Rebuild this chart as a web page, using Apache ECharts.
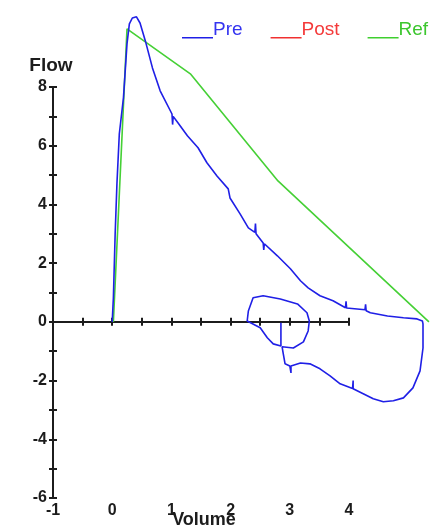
<!DOCTYPE html>
<html>
<head>
<meta charset="utf-8">
<style>
  html, body { margin: 0; padding: 0; background: #fff; }
  #main { width: 434px; height: 531px; }
</style>
<script src="https://cdn.jsdelivr.net/npm/echarts@6/dist/echarts.min.js"></script>
</head>
<body>
<div id="main"></div>
<script>
var myChart = echarts.init(document.getElementById('main'));

// [volume, flow] pairs
let preExpiration = [
    [0, 0], [0.02, 0.82], [0.05, 3.0], [0.08, 4.7], [0.12, 6.4], [0.19, 7.63],
    [0.25, 9.47], [0.29, 10.15], [0.34, 10.35], [0.41, 10.39], [0.47, 10.18],
    [0.56, 9.57], [0.68, 8.65], [0.81, 7.87], [1.01, 7.08], [1.02, 6.72], [1.03, 7.0],
    [1.11, 6.78], [1.27, 6.34], [1.45, 5.93], [1.6, 5.42], [1.77, 4.97], [1.96, 4.53],
    [1.99, 4.22], [2.16, 3.68], [2.3, 3.2], [2.41, 3.05], [2.42, 3.35], [2.43, 3.0],
    [2.55, 2.69], [2.56, 2.45], [2.57, 2.66], [2.79, 2.25], [3.01, 1.81], [3.18, 1.4],
    [3.31, 1.16], [3.51, 0.89], [3.73, 0.72], [3.94, 0.48], [3.95, 0.7], [3.96, 0.47],
    [4.27, 0.41], [4.28, 0.6], [4.29, 0.38], [4.36, 0.31], [4.65, 0.2], [4.92, 0.14],
    [5.15, 0.1], [5.24, 0.03]
];
let preInspiration = [
    [5.25, -0.07], [5.25, -0.89], [5.2, -1.67], [5.08, -2.25], [4.92, -2.59],
    [4.75, -2.69], [4.58, -2.72], [4.41, -2.62], [4.24, -2.45], [4.07, -2.28],
    [4.07, -2.0], [4.06, -2.27], [3.85, -2.11], [3.68, -1.84], [3.51, -1.6],
    [3.34, -1.43], [3.18, -1.4], [3.02, -1.5], [3.02, -1.74], [3.0, -1.5],
    [2.92, -1.43], [2.89, -1.09], [2.87, -0.85], [3.06, -0.89], [3.23, -0.68],
    [3.31, -0.31], [3.33, 0.03], [3.29, 0.31], [3.13, 0.61], [2.84, 0.78],
    [2.55, 0.89], [2.38, 0.82], [2.3, 0.37], [2.28, 0.03], [2.5, -0.2],
    [2.62, -0.54], [2.72, -0.75], [2.85, -0.82], [2.85, -0.03]
];
let postCurve = [];
let refCurve = [[0.02, 0], [0.25, 9.98], [1.32, 8.45], [2.8, 4.8], [5.35, 0]];

let xRange = [-1, 4];      // drawn axis
let xDataMax = 5.4;        // the curves run past the end of the drawn axis
let yRange = [-6, 8];

let font = '"Liberation Sans", Arial, sans-serif';
let ink = '#1c1c1c';
let legendIcon = 'path://M0,0 M0,16.5 L31,16.5 L31,18 L0,18 Z';

let gridLeft = 53, gridTop = 87, gridHeight = 411, axisWidth = 296;
let pxPerUnit = axisWidth / (xRange[1] - xRange[0]);

let hidden = {
    axisLine: {show: false, onZero: false},
    axisTick: {show: false},
    axisLabel: {show: false},
    splitLine: {show: false}
};

let option = {
    animation: false,
    backgroundColor: '#fff',
    grid: [
        // grid 0 holds the curves, grid 1 the visible axes; same scale
        {left: gridLeft, top: gridTop, height: gridHeight, width: pxPerUnit * (xDataMax - xRange[0]), outerBoundsMode: 'none'},
        {left: gridLeft, top: gridTop, height: gridHeight, width: axisWidth, outerBoundsMode: 'none'}
    ],
    legend: {
        left: 182,
        top: 20,
        padding: 0,
        itemWidth: 31,
        itemHeight: 18,
        itemGap: 28,
        icon: legendIcon,
        textStyle: {
            fontFamily: font,
            fontSize: 19,
            padding: [0, 0, 0, -5]
        },
        data: [
            {name: 'Pre', itemStyle: {color: '#1f1fe6'}, textStyle: {color: '#3434f0'}},
            {name: 'Post', itemStyle: {color: '#f03030'}, textStyle: {color: '#f43a3a'}},
            {name: 'Ref', itemStyle: {color: '#3fcf2f'}, textStyle: {color: '#3cc62e'}}
        ]
    },
    xAxis: [
        Object.assign({type: 'value', gridIndex: 0, min: xRange[0], max: xDataMax}, hidden),
        {
            // zero line, ticks going down
            type: 'value',
            gridIndex: 1,
            min: xRange[0],
            max: xRange[1],
            interval: 0.5,
            position: 'bottom',
            axisLine: {onZero: true, lineStyle: {color: ink, width: 2}},
            axisTick: {show: true, length: 4, lineStyle: {color: ink, width: 2}},
            axisLabel: {show: false},
            splitLine: {show: false}
        },
        {
            // same line, ticks going up
            type: 'value',
            gridIndex: 1,
            min: xRange[0],
            max: xRange[1],
            interval: 0.5,
            position: 'bottom',
            axisLine: {onZero: true, lineStyle: {color: ink, width: 2}},
            axisTick: {show: true, inside: true, length: 4, lineStyle: {color: ink, width: 2}},
            axisLabel: {show: false},
            splitLine: {show: false}
        },
        {
            // labels at the bottom
            type: 'value',
            gridIndex: 1,
            min: xRange[0],
            max: xRange[1],
            interval: 1,
            position: 'bottom',
            name: 'Volume',
            nameLocation: 'middle',
            nameGap: 13,
            nameMoveOverlap: false,
            nameTextStyle: {fontFamily: font, fontSize: 18, fontWeight: 'bold', color: ink, padding: [0, 0, 0, 6]},
            axisLine: {show: false, onZero: false},
            axisTick: {show: false},
            axisLabel: {margin: 5, fontFamily: font, fontSize: 16, fontWeight: 'bold', color: ink},
            splitLine: {show: false}
        }
    ],
    yAxis: [
        Object.assign({type: 'value', gridIndex: 0, min: yRange[0], max: yRange[1]}, hidden),
        {
            type: 'value',
            gridIndex: 1,
            min: yRange[0],
            max: yRange[1],
            interval: 1,
            position: 'left',
            name: 'Flow',
            nameLocation: 'end',
            nameGap: 12,
            nameTextStyle: {fontFamily: font, fontSize: 19, fontWeight: 'bold', color: ink, align: 'center', padding: [0, 4, 0, 0]},
            axisLine: {onZero: false, lineStyle: {color: ink, width: 2}},
            axisTick: {show: true, length: 4, lineStyle: {color: ink, width: 2}},
            axisLabel: {
                margin: 6,
                fontFamily: font,
                fontSize: 16,
                fontWeight: 'bold',
                color: ink,
                formatter: function(v) {
                    return v % 2 === 0 ? String(v) : '';
                }
            },
            splitLine: {show: false}
        },
        {
            type: 'value',
            gridIndex: 1,
            min: yRange[0],
            max: yRange[1],
            interval: 1,
            position: 'left',
            axisLine: {show: false, onZero: false},
            axisTick: {show: true, inside: true, length: 4, lineStyle: {color: ink, width: 2}},
            axisLabel: {show: false},
            splitLine: {show: false}
        }
    ],
    series: [
        {
            name: 'Ref',
            type: 'line',
            xAxisIndex: 0,
            yAxisIndex: 0,
            data: refCurve,
            showSymbol: false,
            clip: false,
            color: '#3fcf2f',
            lineStyle: {color: '#45d035', width: 1.6}
        },
        {
            name: 'Post',
            type: 'line',
            xAxisIndex: 0,
            yAxisIndex: 0,
            data: postCurve,
            showSymbol: false,
            clip: false,
            color: '#f03030',
            lineStyle: {color: '#f03030', width: 1.6}
        },
        {
            name: 'Pre',
            type: 'line',
            xAxisIndex: 0,
            yAxisIndex: 0,
            data: preExpiration.concat(preInspiration),
            showSymbol: false,
            clip: false,
            color: '#1f1fe6',
            lineStyle: {color: '#1f1fe6', width: 1.6}
        }
    ]
};

myChart.setOption(option);
</script>
</body>
</html>
